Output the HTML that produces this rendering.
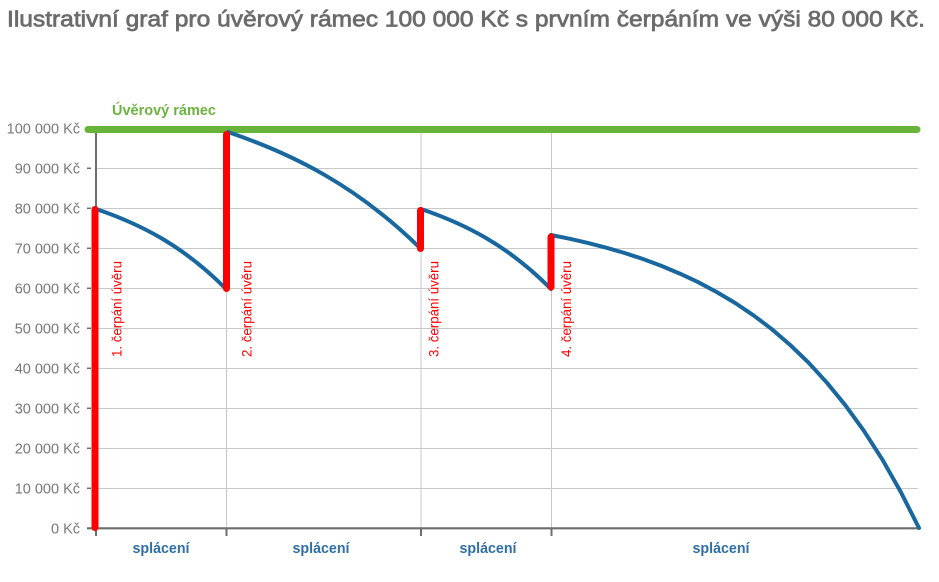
<!DOCTYPE html>
<html>
<head>
<meta charset="utf-8">
<style>
  html, body { margin: 0; padding: 0; background: #ffffff; }
  body { width: 939px; height: 582px; overflow: hidden; }
  svg { display: block; }
  text { font-family: "Liberation Sans", sans-serif; }
</style>
</head>
<body>
<svg width="939" height="582" viewBox="0 0 939 582" xmlns="http://www.w3.org/2000/svg">
  <rect x="0" y="0" width="939" height="582" fill="#ffffff"/>

  <!-- Title -->
  <text x="7" y="26.5" font-size="22" fill="#6b6b6b" stroke="#6b6b6b" stroke-width="0.7" textLength="918" lengthAdjust="spacingAndGlyphs">Ilustrativní graf pro úvěrový rámec 100 000 Kč s prvním čerpáním ve výši 80 000 Kč.</text>

  <!-- Horizontal gridlines -->
  <g stroke="#c8c8c8" stroke-width="1">
    <line x1="96" y1="488.5" x2="918" y2="488.5"/>
    <line x1="96" y1="448.5" x2="918" y2="448.5"/>
    <line x1="96" y1="408.5" x2="918" y2="408.5"/>
    <line x1="96" y1="368.5" x2="918" y2="368.5"/>
    <line x1="96" y1="328.5" x2="918" y2="328.5"/>
    <line x1="96" y1="288.5" x2="918" y2="288.5"/>
    <line x1="96" y1="248.5" x2="918" y2="248.5"/>
    <line x1="96" y1="208.5" x2="918" y2="208.5"/>
    <line x1="96" y1="168.5" x2="918" y2="168.5"/>
    <!-- vertical gridlines -->
    <line x1="226.5" y1="130" x2="226.5" y2="528"/>
    <line x1="421" y1="130" x2="421" y2="528"/>
    <line x1="551.5" y1="130" x2="551.5" y2="528"/>
  </g>

  <!-- Y axis -->
  <line x1="96" y1="129" x2="96" y2="529" stroke="#6e6e6e" stroke-width="2"/>
  <g stroke="#6e6e6e" stroke-width="1.5">
    <line x1="87" y1="528.3" x2="91" y2="528.3"/>
    <line x1="87" y1="488.3" x2="91" y2="488.3"/>
    <line x1="87" y1="448.3" x2="91" y2="448.3"/>
    <line x1="87" y1="408.3" x2="91" y2="408.3"/>
    <line x1="87" y1="368.3" x2="91" y2="368.3"/>
    <line x1="87" y1="328.3" x2="91" y2="328.3"/>
    <line x1="87" y1="288.3" x2="91" y2="288.3"/>
    <line x1="87" y1="248.3" x2="91" y2="248.3"/>
    <line x1="87" y1="208.3" x2="91" y2="208.3"/>
    <line x1="87" y1="168.3" x2="91" y2="168.3"/>
    <line x1="87" y1="128.3" x2="91" y2="128.3"/>
  </g>

  <!-- Y labels -->
  <g font-size="14.5" fill="#777777" text-anchor="end">
    <text x="80" y="533.5">0 Kč</text>
    <text x="80" y="493.5">10 000 Kč</text>
    <text x="80" y="453.5">20 000 Kč</text>
    <text x="80" y="413.5">30 000 Kč</text>
    <text x="80" y="373.5">40 000 Kč</text>
    <text x="80" y="333.5">50 000 Kč</text>
    <text x="80" y="293.5">60 000 Kč</text>
    <text x="80" y="253.5">70 000 Kč</text>
    <text x="80" y="213.5">80 000 Kč</text>
    <text x="80" y="173.5">90 000 Kč</text>
    <text x="80" y="133.5">100 000 Kč</text>
  </g>

  <!-- X axis -->
  <line x1="87" y1="528.3" x2="919" y2="528.3" stroke="#6e6e6e" stroke-width="2.2"/>
  <g stroke="#6e6e6e" stroke-width="2">
    <line x1="96" y1="528" x2="96" y2="536"/>
    <line x1="226.5" y1="528" x2="226.5" y2="536"/>
    <line x1="421" y1="528" x2="421" y2="536"/>
    <line x1="551.5" y1="528" x2="551.5" y2="536"/>
  </g>

  <!-- X labels -->
  <g font-size="15" font-weight="bold" fill="#2f6ea6" text-anchor="middle">
    <text x="161" y="553" textLength="57" lengthAdjust="spacingAndGlyphs">splácení</text>
    <text x="321" y="553" textLength="57" lengthAdjust="spacingAndGlyphs">splácení</text>
    <text x="488" y="553" textLength="57" lengthAdjust="spacingAndGlyphs">splácení</text>
    <text x="721" y="553" textLength="57" lengthAdjust="spacingAndGlyphs">splácení</text>
  </g>

  <!-- Green credit limit line -->
  <line x1="88" y1="129.5" x2="917" y2="129.5" stroke="#68b33a" stroke-width="7" stroke-linecap="round"/>
  <text x="112" y="115" font-size="15" font-weight="bold" fill="#6cb33f" textLength="104" lengthAdjust="spacingAndGlyphs">Úvěrový rámec</text>

  <!-- Blue balance curves -->
  <g fill="none" stroke="#18689f" stroke-width="4" stroke-linecap="round" stroke-linejoin="round">
    <path d="M96,209 C139.3,223.6 182.7,245.1 226,289"/>
    <path d="M228,132 C291,153.4 356,184.8 421,249"/>
    <path d="M421,209 C464.3,223.6 507.7,245.1 551,289"/>
    <polyline points="551,235 569.4,238.7 587.8,242.9 606.2,247.7 624.6,253 643,259 661.4,265.9 679.8,273.6 698.2,282.2 716.6,292 735,302.9 753.4,315.3 771.8,329.2 790.2,345 808.6,362.7 827,382.8 845.4,405.3 863.8,430.7 882.2,459.3 900.6,491.6 919,528"/>
  </g>

  <!-- Red drawdown bars -->
  <g stroke="#ff0000" stroke-width="7" stroke-linecap="round">
    <line x1="95" y1="209.5" x2="95" y2="527.5"/>
    <line x1="226.5" y1="134.5" x2="226.5" y2="288.5"/>
    <line x1="420.5" y1="210.5" x2="420.5" y2="248.5"/>
    <line x1="551" y1="237" x2="551" y2="287"/>
  </g>

  <!-- Rotated labels -->
  <g font-size="13.4" fill="#ff0000">
    <text transform="translate(121.5,357) rotate(-90)" textLength="96" lengthAdjust="spacingAndGlyphs">1. čerpání úvěru</text>
    <text transform="translate(251.5,357) rotate(-90)" textLength="96" lengthAdjust="spacingAndGlyphs">2. čerpání úvěru</text>
    <text transform="translate(438.5,357) rotate(-90)" textLength="96" lengthAdjust="spacingAndGlyphs">3. čerpání úvěru</text>
    <text transform="translate(571,357) rotate(-90)" textLength="96" lengthAdjust="spacingAndGlyphs">4. čerpání úvěru</text>
  </g>
</svg>
</body>
</html>
